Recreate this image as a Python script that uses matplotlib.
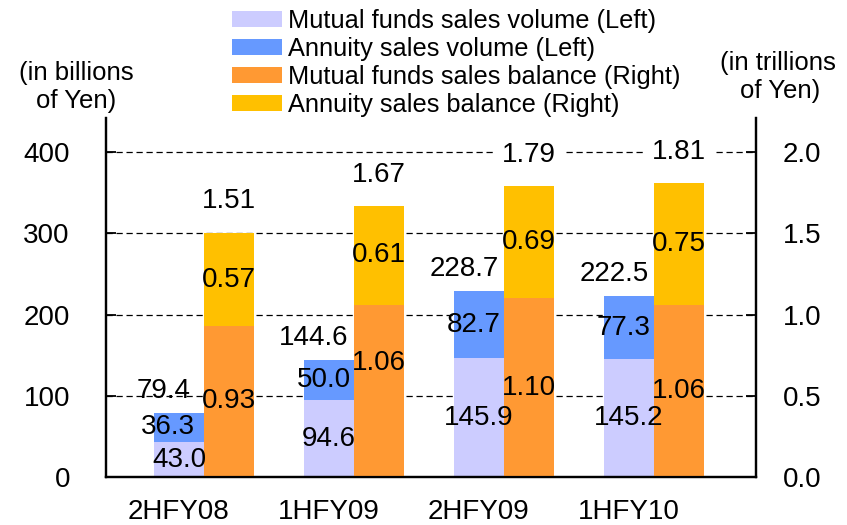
import matplotlib
matplotlib.use("Agg")
import matplotlib.pyplot as plt
import numpy as np

plt.rcParams['font.family'] = ['Liberation Sans', 'DejaVu Sans']

# data
periods = ["2HFY08", "1HFY09", "2HFY09", "1HFY10"]
mf_volume = [43.0, 94.6, 145.9, 145.2]        # billions of Yen (left)
ann_volume = [36.3, 50.0, 82.7, 77.3]
vol_total = [79.4, 144.6, 228.7, 222.5]
mf_balance = [0.93, 1.06, 1.10, 1.06]          # trillions of Yen (right)
ann_balance = [0.57, 0.61, 0.69, 0.75]
bal_total = [1.51, 1.67, 1.79, 1.81]

labels_legend = ["Mutual funds sales volume (Left)", "Annuity sales volume (Left)",
                 "Mutual funds sales balance (Right)", "Annuity sales balance (Right)"]
c_mfv = "#CCCCFF"
c_annv = "#6699FF"
c_mfb = "#FF9933"
c_annb = "#FFC000"

fig = plt.figure(figsize=(8.47, 5.25), dpi=100)
ax = fig.add_axes([106/847, 48/525, 650/847, (477-118)/525])
ax2 = ax.twinx()

x = np.arange(len(periods))
w = 1/3
xl = x - w/2
xr = x + w/2

# gridlines
for v in [100, 200, 300, 400]:
    ax.axhline(v, color="black", lw=0.9, ls=(0, (5, 3)), zorder=0)

b1 = ax.bar(xl, mf_volume, w, color=c_mfv, zorder=2)
b2 = ax.bar(xl, ann_volume, w, bottom=mf_volume, color=c_annv, zorder=2)
b3 = ax2.bar(xr, mf_balance, w, color=c_mfb, zorder=2)
b4 = ax2.bar(xr, ann_balance, w, bottom=mf_balance, color=c_annb, zorder=2)

ax.set_xlim(-0.653, 3.68)
ax.set_ylim(0, 442)
ax2.set_ylim(0, 2.21)
ax.set_yticks([0, 100, 200, 300, 400])
ax2.set_yticks([0, 0.5, 1.0, 1.5, 2.0])
ax2.set_yticklabels(["0.0", "0.5", "1.0", "1.5", "2.0"])
ax.set_xticks(xl)
ax.set_xticklabels(periods)

for a in (ax, ax2):
    a.spines['top'].set_visible(False)
    for s in ('left', 'right', 'bottom'):
        a.spines[s].set_linewidth(1.6)
ax.tick_params(axis='x', length=0, pad=16, labelsize=20)
ax.tick_params(axis='y', direction='in', length=7, width=1.3, pad=26, labelsize=20)
ax2.tick_params(axis='y', direction='in', length=7, width=1.3, pad=19, labelsize=20)

fs = 20
# volume labels (drawn on ax2 so they sit above the balance bars)
for i in range(len(periods)):
    ax2.text(xl[i], mf_volume[i] / 2, "%.1f" % mf_volume[i], transform=ax.transData,
             ha='center', va='center', fontsize=fs, zorder=5)
    ax2.annotate("%.1f" % ann_volume[i], xy=(xl[i], mf_volume[i] + ann_volume[i] / 2),
                 xycoords=ax.transData, xytext=(-5 if i else -11, 0), textcoords='offset pixels',
                 ha='center', va='center', fontsize=fs, zorder=5)
    ax2.annotate("%.1f" % vol_total[i], xy=(xl[i], vol_total[i]), xycoords=ax.transData,
                 xytext=(-15, 22), textcoords='offset pixels',
                 ha='center', va='center', fontsize=fs, zorder=5)

mf_label_y = [0.5, 0.66, 0.5, 0.5]
for i in range(len(periods)):
    ax2.text(xr[i], mf_balance[i] * mf_label_y[i], "%.2f" % mf_balance[i],
             ha='center', va='center', fontsize=fs, zorder=5)
    ax2.text(xr[i], mf_balance[i] + ann_balance[i] / 2, "%.2f" % ann_balance[i],
             ha='center', va='center', fontsize=fs, zorder=5)
    ax2.annotate("%.2f" % bal_total[i], xy=(xr[i], bal_total[i]),
                 xytext=(0, 31), textcoords='offset pixels',
                 ha='center', va='center', fontsize=fs, zorder=5,
                 bbox=dict(boxstyle='square,pad=0.25', fc='white', ec='none'))

# unit captions
fig.text(76/847, 1 - 73/525, "(in billions", ha='center', va='center', fontsize=18.5)
fig.text(76/847, 1 - 101/525, "of Yen)", ha='center', va='center', fontsize=18.5)
fig.text(778/847, 1 - 63/525, "(in trillions", ha='center', va='center', fontsize=18.5)
fig.text(780/847, 1 - 91/525, "of Yen)", ha='center', va='center', fontsize=18.5)

fig.legend([b1, b2, b3, b4], labels_legend, loc='upper left',
           bbox_to_anchor=(232/847, 1 - 9/525), frameon=False, fontsize=18.3,
           handlelength=1.95, handleheight=0.62, handletextpad=0.25,
           labelspacing=0.16, borderpad=0, borderaxespad=0)

fig.savefig("out.png", dpi=100)
